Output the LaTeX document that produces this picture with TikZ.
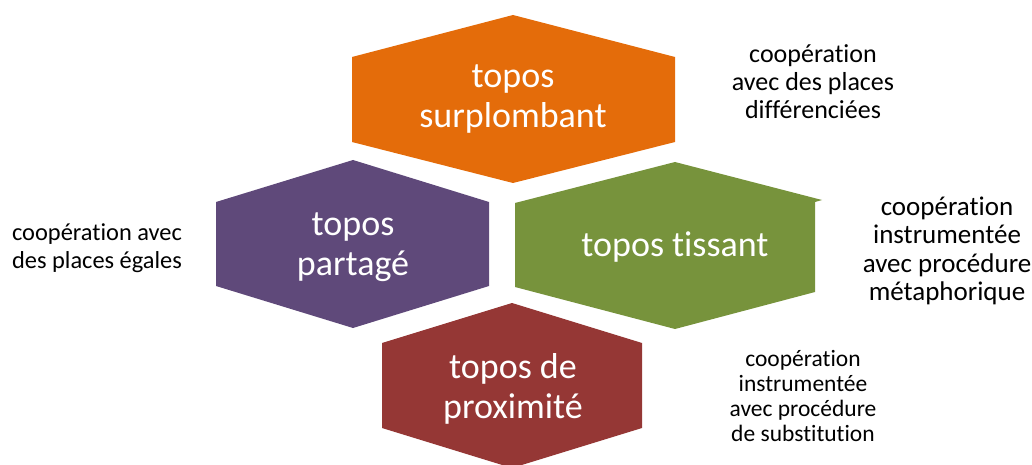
\documentclass[tikz,border=0pt]{standalone}
\usepackage{fontspec}
\setmainfont{Carlito}[Ligatures=NoCommon]
\usetikzlibrary{positioning}

\definecolor{hexorange}{HTML}{E46C0A}
\definecolor{hexgreen}{HTML}{77933C}
\definecolor{hexpurple}{HTML}{5F497A}
\definecolor{hexred}{HTML}{953735}

\begin{document}
\begin{tikzpicture}[x=1pt, y=-1pt,
  hexlabel/.style={text=white, align=center, inner sep=0pt,
    font=\fontsize{36}{40}\selectfont},
  note/.style={text=black, align=center, inner sep=0pt}]

  \useasboundingbox (0,0) rectangle (1032,465);

  % hexagons
  \fill [hexorange] (352,57) -- (513,15) -- (675,57) -- (675,142) -- (513,183) -- (352,142) -- cycle;
  \fill [hexpurple] (216,202) -- (353,160) -- (489,202) -- (489,286) -- (353,328) -- (216,286) -- cycle;
  \fill [hexgreen] (515,203) -- (675,162) -- (822,200) -- (815,202) -- (815,292) -- (675,329) -- (515,287) -- cycle;
  \fill [hexred] (382,343) -- (512,303) -- (642,343) -- (642,428) -- (512,468) -- (382,428) -- cycle;

  \node (surp) at (513,99) [hexlabel] {topos\\surplombant};
  \node (part) at (353,247) [hexlabel] {topos\\partagé};
  \node (tiss) at (675,247) [hexlabel] {topos tissant};
  \node (prox) at (513,389) [hexlabel] {topos de\\proximité};

  % labels
  \node (surpN) at (813,82) [note, font=\fontsize{26}{28}\selectfont] {coopération\\avec des places\\différenciées};
  \node (partN) at (97,248) [note, font=\fontsize{24.4}{28.5}\selectfont] {coopération avec\\des places égales};
  \node (tissN) at (947,251) [note, font=\fontsize{27}{28.5}\selectfont] {coopération\\instrumentée\\avec procédure\\métaphorique};
  \node (proxN) at (803,396) [note, font=\fontsize{23.5}{25}\selectfont] {coopération\\instrumentée\\avec procédure\\de substitution};

\end{tikzpicture}
\end{document}
